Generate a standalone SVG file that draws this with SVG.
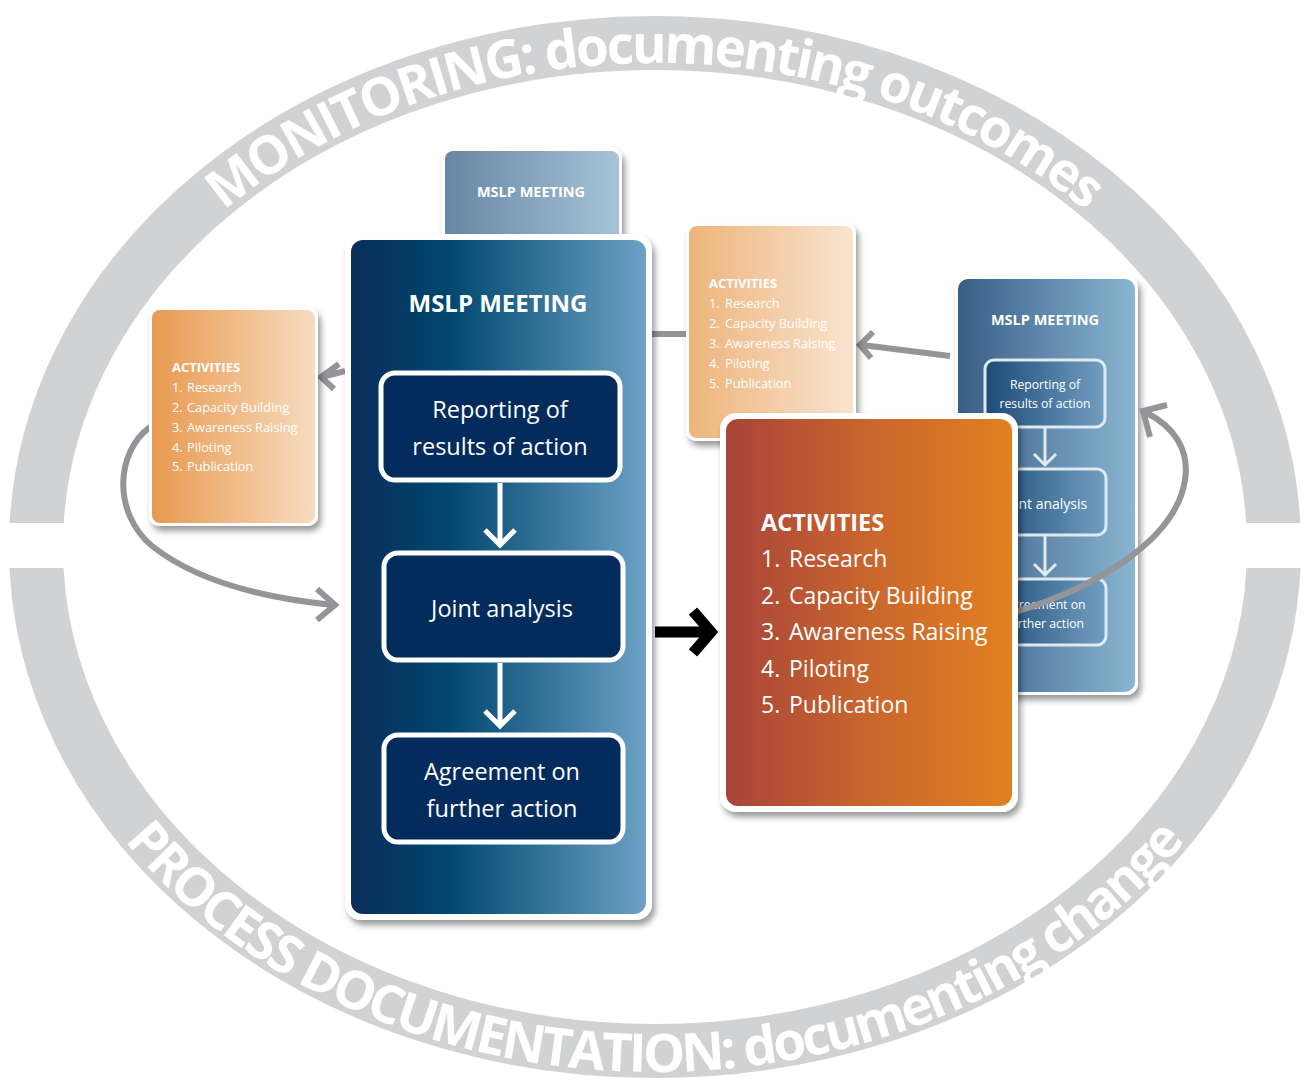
<svg xmlns="http://www.w3.org/2000/svg" width="1306" height="1080" viewBox="0 0 1306 1080">
<defs>
<style>
.ring{fill:none;stroke:#d1d2d4;stroke-width:54}
.ringtxt{font-family:"Open Sans","Noto Sans",sans-serif;font-weight:700;font-size:53px;fill:#fff}
.t{font-family:"Open Sans","Noto Sans",sans-serif;fill:#fff}
.b{font-weight:700}
.border{fill:#fff;filter:url(#sh)}
.ibox{fill:#032c5c;stroke:#fff;stroke-width:5}
.rbox{fill:url(#gRBox);stroke:#dfe9f0;stroke-width:3}
.wline{fill:none;stroke:#fff;stroke-width:5}
.rline{fill:none;stroke:#dfe9f0;stroke-width:3}
.gline{fill:none;stroke:#939598;stroke-width:6}
</style>
<filter id="sh" x="-10%" y="-10%" width="130%" height="130%">
<feDropShadow dx="3" dy="5" stdDeviation="3" flood-color="#000" flood-opacity="0.4"/>
</filter>
<linearGradient id="gMain" x1="0" y1="0" x2="1" y2="0">
<stop offset="0" stop-color="#0a2d5a"/><stop offset="0.33" stop-color="#00476f"/><stop offset="1" stop-color="#6ca1c5"/>
</linearGradient>
<linearGradient id="gFaded" x1="0" y1="0" x2="1" y2="0">
<stop offset="0" stop-color="#6786a4"/><stop offset="1" stop-color="#a5c4d8"/>
</linearGradient>
<linearGradient id="gRight" x1="0" y1="0" x2="1" y2="0">
<stop offset="0" stop-color="#385d86"/><stop offset="1" stop-color="#8ab6d1"/>
</linearGradient>
<linearGradient id="gRBox" x1="0" y1="0" x2="1" y2="0">
<stop offset="0" stop-color="#1d4a77"/><stop offset="1" stop-color="#729fc0"/>
</linearGradient>
<linearGradient id="gActL" x1="0" y1="0" x2="1" y2="0">
<stop offset="0" stop-color="#e8994f"/><stop offset="1" stop-color="#f7dcc1"/>
</linearGradient>
<linearGradient id="gActTR" x1="0" y1="0" x2="1" y2="0">
<stop offset="0" stop-color="#edb47c"/><stop offset="1" stop-color="#f9e4cf"/>
</linearGradient>
<linearGradient id="gAct" x1="0" y1="0" x2="1" y2="0">
<stop offset="0" stop-color="#a8443a"/><stop offset="0.5" stop-color="#c9662d"/><stop offset="1" stop-color="#e28021"/>
</linearGradient>
<path id="topArc" d="M56,547 A599,484 0 0 1 1254,547"/>
<path id="botArc" d="M15,547 A640,525 0 0 0 1295,547"/>
</defs>

<g id="ring">
<ellipse class="ring" cx="655" cy="547" rx="619" ry="504"/>
<rect x="0" y="523" width="80" height="45" fill="#fff"/>
<rect x="1226" y="523" width="80" height="45" fill="#fff"/>
<text class="ringtxt"><textPath href="#topArc" startOffset="50%" text-anchor="middle" textLength="930" lengthAdjust="spacing">MONITORING: documenting outcomes</textPath></text>
<text class="ringtxt"><textPath href="#botArc" startOffset="50%" text-anchor="middle" textLength="1195" lengthAdjust="spacing">PROCESS DOCUMENTATION: documenting change</textPath></text>
</g>

<g id="mslp-faded">
<rect class="border" x="442" y="148" width="180" height="100" rx="10"/>
<rect x="445" y="151" width="174" height="95" rx="8" fill="url(#gFaded)"/>
<text class="t b" x="531" y="197" font-size="14.5" text-anchor="middle">MSLP MEETING</text>
</g>

<g id="mslp-right">
<rect class="border" x="955" y="276" width="183" height="419" rx="12"/>
<rect x="958" y="279" width="177" height="413" rx="10" fill="url(#gRight)"/>
<text class="t b" x="1045" y="325" font-size="14.5" text-anchor="middle">MSLP MEETING</text>
<rect class="rbox" x="985" y="360" width="120" height="67" rx="9"/>
<text class="t" x="1045" y="389" font-size="12.2" text-anchor="middle" fill="#e8eff5">Reporting of</text>
<text class="t" x="1045" y="408" font-size="12.2" text-anchor="middle" fill="#e8eff5">results of action</text>
<path class="rline" d="M1045,428 V465 M1034,454 L1045,465 L1056,454"/>
<rect class="rbox" x="985" y="469" width="121" height="66" rx="9"/>
<text class="t" x="1045" y="509" font-size="14" text-anchor="middle" fill="#e8eff5">Joint analysis</text>
<path class="rline" d="M1045,536 V575 M1034,564 L1045,575 L1056,564"/>
<rect class="rbox" x="985" y="579" width="121" height="66" rx="9"/>
<text class="t" x="1045" y="609" font-size="12.2" text-anchor="middle" fill="#e8eff5">Agreement on</text>
<text class="t" x="1045" y="628" font-size="12.2" text-anchor="middle" fill="#e8eff5">further action</text>
</g>

<g id="connectors">
<path class="gline" d="M150,427 C116,452 112,512 152,546 C195,580 262,598 333,605"/>
<path class="gline" d="M317,589 L335,605 L317,620"/>
<path class="gline" d="M345,371 L322,377"/>
<path class="gline" d="M339,364 L321,377 L334,389"/>
<path class="gline" d="M652,334 H692" stroke-width="4"/>
<path class="gline" d="M950,356 L862,345"/>
<path class="gline" d="M873,332 L860,345 L871,358"/>
<path class="gline" d="M1015,612 C1095,588 1176,540 1185,480 C1190,448 1172,426 1147,413"/>
<path class="gline" d="M1150,437 L1143,411 L1167,405"/>
<path d="M655,632 H706" fill="none" stroke="#000" stroke-width="11"/>
<path d="M693,611 L711,632 L693,653" fill="none" stroke="#000" stroke-width="11" stroke-linejoin="miter"/>
</g>

<g id="activities-left">
<rect class="border" x="149" y="307" width="169" height="219" rx="10"/>
<rect x="152" y="310" width="163" height="213" rx="8" fill="url(#gActL)"/>
<text class="t b" x="172" y="372" font-size="13">ACTIVITIES</text>
<text class="t" font-size="12.8">
<tspan x="172" y="392">1.</tspan><tspan x="187" y="392">Research</tspan>
<tspan x="172" y="412">2.</tspan><tspan x="187" y="412">Capacity Building</tspan>
<tspan x="172" y="432">3.</tspan><tspan x="187" y="432">Awareness Raising</tspan>
<tspan x="172" y="452">4.</tspan><tspan x="187" y="452">Piloting</tspan>
<tspan x="172" y="471">5.</tspan><tspan x="187" y="471">Publication</tspan>
</text>
</g>

<g id="activities-topright">
<rect class="border" x="686" y="223" width="170" height="218" rx="10"/>
<rect x="689" y="226" width="164" height="212" rx="8" fill="url(#gActTR)"/>
<text class="t b" x="709" y="288" font-size="13">ACTIVITIES</text>
<text class="t" font-size="12.8">
<tspan x="709" y="308">1.</tspan><tspan x="725" y="308">Research</tspan>
<tspan x="709" y="328">2.</tspan><tspan x="725" y="328">Capacity Building</tspan>
<tspan x="709" y="348">3.</tspan><tspan x="725" y="348">Awareness Raising</tspan>
<tspan x="709" y="368">4.</tspan><tspan x="725" y="368">Piloting</tspan>
<tspan x="709" y="388">5.</tspan><tspan x="725" y="388">Publication</tspan>
</text>
</g>

<g id="mslp-main">
<rect class="border" x="345" y="234" width="307" height="686" rx="16"/>
<rect x="351" y="240" width="295" height="674" rx="12" fill="url(#gMain)"/>
<text class="t b" x="498" y="312" font-size="24" text-anchor="middle">MSLP MEETING</text>
<rect class="ibox" x="381" y="373" width="239" height="107" rx="14"/>
<text class="t" x="500" y="418" font-size="23.5" text-anchor="middle">Reporting of</text>
<text class="t" x="500" y="455" font-size="23.5" text-anchor="middle">results of action</text>
<path class="wline" d="M500,483 V545 M485,530 L500,545 L515,530"/>
<rect class="ibox" x="384" y="553" width="239" height="107" rx="14"/>
<text class="t" x="502" y="617" font-size="23.5" text-anchor="middle">Joint analysis</text>
<path class="wline" d="M500,663 V726 M485,711 L500,726 L515,711"/>
<rect class="ibox" x="384" y="735" width="239" height="107" rx="14"/>
<text class="t" x="502" y="780" font-size="23.5" text-anchor="middle">Agreement on</text>
<text class="t" x="502" y="817" font-size="23.5" text-anchor="middle">further action</text>
</g>

<g id="activities-main">
<rect class="border" x="720" y="413" width="298" height="399" rx="16"/>
<rect x="726" y="419" width="286" height="387" rx="12" fill="url(#gAct)"/>
<text class="t b" x="761" y="531" font-size="23.5">ACTIVITIES</text>
<text class="t" font-size="23">
<tspan x="761" y="567">1.</tspan><tspan x="789" y="567">Research</tspan>
<tspan x="761" y="604">2.</tspan><tspan x="789" y="604">Capacity Building</tspan>
<tspan x="761" y="640">3.</tspan><tspan x="789" y="640">Awareness Raising</tspan>
<tspan x="761" y="677">4.</tspan><tspan x="789" y="677">Piloting</tspan>
<tspan x="761" y="713">5.</tspan><tspan x="789" y="713">Publication</tspan>
</text>
</g>
</svg>
